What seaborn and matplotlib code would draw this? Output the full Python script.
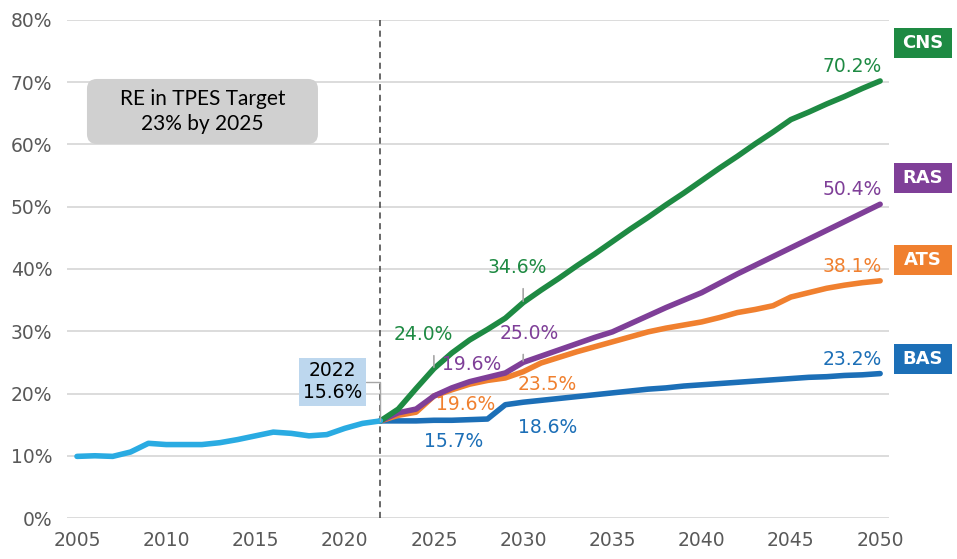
import matplotlib
matplotlib.use("Agg")
import matplotlib.pyplot as plt
import matplotlib.ticker as mticker
from matplotlib.patches import FancyBboxPatch, Rectangle
import pandas as pd
import seaborn as sns

# historical RE share in TPES (%)
hist_years = list(range(2005, 2023))
hist_vals = [9.9, 10.0, 9.9, 10.6, 12.0, 11.8, 11.8, 11.8, 12.1, 12.6,
             13.2, 13.8, 13.6, 13.2, 13.4, 14.4, 15.2, 15.6]

# scenario projections 2022-2050 (%)
proj_years = list(range(2022, 2051))
bas = [15.6, 15.6, 15.6, 15.7, 15.7, 15.8, 15.9, 18.2, 18.6, 18.9,
       19.2, 19.5, 19.8, 20.1, 20.4, 20.7, 20.9, 21.2, 21.4, 21.6,
       21.8, 22.0, 22.2, 22.4, 22.6, 22.7, 22.9, 23.0, 23.2]
ats = [15.6, 16.5, 17.0, 19.6, 20.6, 21.5, 22.1, 22.5, 23.5, 24.9,
       25.8, 26.7, 27.5, 28.3, 29.1, 29.9, 30.5, 31.0, 31.5, 32.2,
       33.0, 33.5, 34.1, 35.5, 36.2, 36.9, 37.4, 37.8, 38.1]
ras = [15.6, 16.9, 17.5, 19.6, 20.9, 21.9, 22.6, 23.3, 25.0, 26.0,
       27.0, 28.0, 29.0, 29.9, 31.2, 32.5, 33.8, 35.0, 36.2, 37.7,
       39.2, 40.6, 42.0, 43.4, 44.8, 46.2, 47.6, 49.0, 50.4]
cns = [15.6, 17.5, 20.8, 24.0, 26.5, 28.6, 30.3, 32.1, 34.6, 36.6,
       38.5, 40.5, 42.4, 44.4, 46.4, 48.3, 50.3, 52.2, 54.2, 56.2,
       58.1, 60.1, 62.0, 64.0, 65.2, 66.5, 67.7, 69.0, 70.2]

scenarios = ["BAS", "ATS", "RAS", "CNS"]
colors = {"BAS": "#1c6fb7", "ATS": "#f0802f", "RAS": "#7f3f98", "CNS": "#1e8a43"}
hist_color = "#2aabe2"

df = pd.DataFrame({"year": proj_years, "BAS": bas, "ATS": ats, "RAS": ras, "CNS": cns})
long = df.melt(id_vars="year", var_name="scenario", value_name="share")
hist = pd.DataFrame({"year": hist_years, "share": hist_vals})

sns.set_style("white")
plt.rcParams["font.family"] = ["DejaVu Sans"]

fig = plt.figure(figsize=(9.57, 5.59), dpi=100)
ax = fig.add_axes([0.070, 0.0733, 0.859, 0.891])

sns.lineplot(data=long, x="year", y="share", hue="scenario", hue_order=scenarios,
             palette=colors, linewidth=4, legend=False, ax=ax,
             solid_capstyle="round")
sns.lineplot(data=hist, x="year", y="share", color=hist_color, linewidth=4,
             ax=ax, solid_capstyle="round")

ax.set_xlim(2004.44, 2050.5)
ax.set_ylim(0, 80)
ax.set_xticks(range(2005, 2051, 5))
ax.set_yticks(range(0, 81, 10))
ax.yaxis.set_major_formatter(mticker.FuncFormatter(lambda v, p: f"{v:.0f}%"))
ax.grid(axis="y", color="#d9d9d9", linewidth=1.3)
ax.grid(axis="x", visible=False)
ax.set_axisbelow(True)
for s in ax.spines.values():
    s.set_visible(False)
ax.tick_params(axis="both", length=0, labelsize=13.5, labelcolor="#595959")
ax.tick_params(axis="y", pad=10.5)
ax.tick_params(axis="x", pad=9)
ax.set_xlabel("")
ax.set_ylabel("")

# base year marker
ax.axvline(2022, color="#404040", linestyle=(0, (4, 3)), linewidth=1.1, zorder=1)

# base year callout
ax.annotate("2022\n15.6%", xy=(2022, hist_vals[-1]), xytext=(-48, 39),
            textcoords="offset pixels", ha="center", va="center",
            fontsize=13.5, color="black", linespacing=1.2,
            bbox=dict(boxstyle="square,pad=0.2", fc="#bdd7ee", ec="none"),
            arrowprops=dict(arrowstyle="-", color="#a6a6a6", lw=1,
                            connectionstyle="angle,angleA=0,angleB=90,rad=0",
                            shrinkA=0, shrinkB=0, relpos=(1, 0.5)))

# target box
ax.add_patch(FancyBboxPatch((0.0243, 0.751), 0.281, 0.1305, transform=ax.transAxes,
                            boxstyle="round,pad=0,rounding_size=0.012",
                            mutation_aspect=1.65, fc="#d0d0d0", ec="none", zorder=3))
ax.text(0.1648, 0.816, "RE in TPES Target\n23% by 2025", transform=ax.transAxes,
        ha="center", va="center", fontsize=15, color="black",
        family=["Lato", "DejaVu Sans"], linespacing=1.3, zorder=4)

# point labels: (scenario, year, offset in pixels, leader)
pt_labels = [
    ("CNS", 2025, (-11, 34), True),
    ("CNS", 2030, (-6, 35), True),
    ("RAS", 2025, (38, 31), False),
    ("RAS", 2030, (6, 29), True),
    ("ATS", 2025, (32, -9), False),
    ("ATS", 2030, (24, -13), False),
    ("BAS", 2025, (20, -21), False),
    ("BAS", 2030, (24, -25), False),
]
for sc, yr, off, leader in pt_labels:
    val = df.loc[df["year"] == yr, sc].iloc[0]
    txt = f"{val:.1f}%"
    arrow = None
    if leader:
        arrow = dict(arrowstyle="-", color="#a6a6a6", lw=1.2, shrinkA=6, shrinkB=1,
                     relpos=(0.5 - off[0] / 60.0, 0))
    ax.annotate(txt, xy=(yr, val), xytext=off, textcoords="offset pixels",
                ha="center", va="center", fontsize=13.5, color=colors[sc],
                arrowprops=arrow)

# end-of-line labels
for sc in scenarios:
    val = df[sc].iloc[-1]
    ax.annotate(f"{val:.1f}%", xy=(2050, val), xytext=(2, 5), textcoords="offset pixels",
                ha="right", va="bottom", fontsize=13.5, color=colors[sc])

# scenario tags at right (axes-fraction centres)
tag_y = {"CNS": 0.9538, "RAS": 0.6827, "ATS": 0.518, "BAS": 0.319}
tag_w, tag_h, tag_x = 0.0706, 0.0602, 1.0414
for sc in scenarios:
    ax.add_patch(Rectangle((tag_x - tag_w / 2, tag_y[sc] - tag_h / 2), tag_w, tag_h,
                           transform=ax.transAxes, fc=colors[sc], ec="none",
                           clip_on=False))
    ax.text(tag_x, tag_y[sc], sc, transform=ax.transAxes, ha="center", va="center",
            fontsize=13, fontweight="bold", color="white", clip_on=False)

fig.savefig("out.png", dpi=100)
